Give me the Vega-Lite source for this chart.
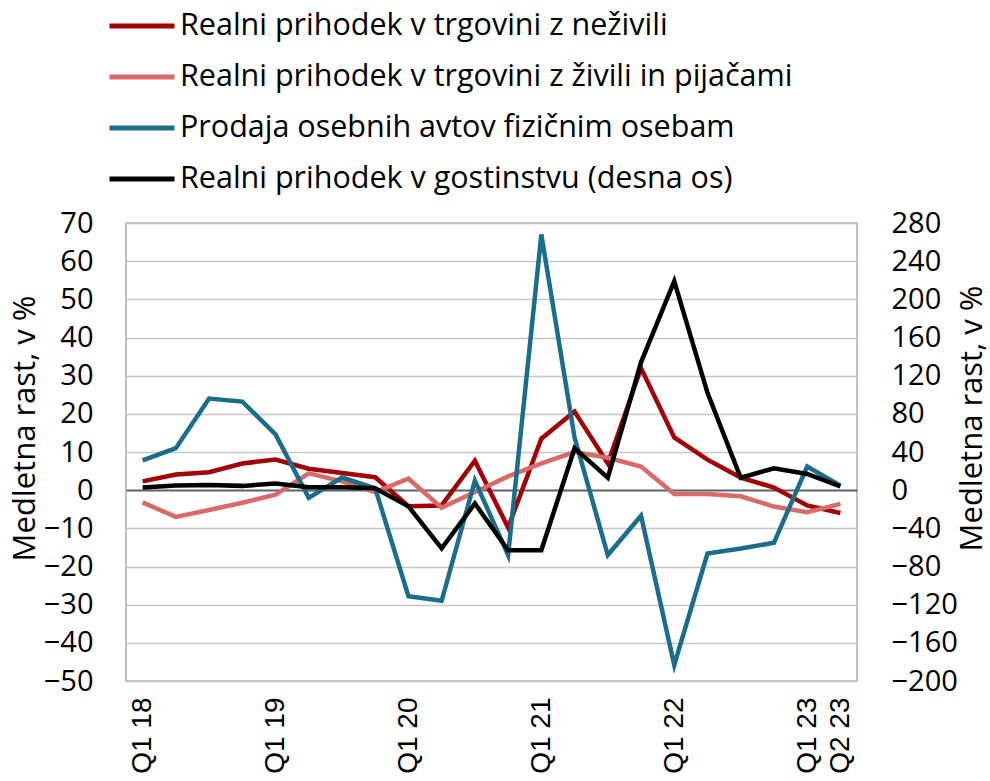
{
  "$schema": "https://vega.github.io/schema/vega-lite/v6.json",
  "width": 731,
  "height": 458,
  "autosize": {"type": "none"},
  "padding": {"left": 126, "top": 223, "right": 133, "bottom": 100},
  "background": "white",
  "config": {
    "view": {"stroke": "#c0c0c0", "strokeWidth": 2},
    "font": "Open Sans"
  },
  "data": {
    "values": [
      {"q": "Q1 18", "nezivila": 2.3, "zivila": -3.2, "avti": 7.8, "gostinstvo": 2.7},
      {"q": "Q2 18", "nezivila": 4.1, "zivila": -7.0, "avti": 11.0, "gostinstvo": 5},
      {"q": "Q3 18", "nezivila": 4.7, "zivila": -5.2, "avti": 24.0, "gostinstvo": 5.5},
      {"q": "Q4 18", "nezivila": 7.0, "zivila": -3.3, "avti": 23.2, "gostinstvo": 4.5},
      {"q": "Q1 19", "nezivila": 8.0, "zivila": -1.2, "avti": 14.6, "gostinstvo": 7},
      {"q": "Q2 19", "nezivila": 5.6, "zivila": 4.4, "avti": -2.0, "gostinstvo": 3},
      {"q": "Q3 19", "nezivila": 4.5, "zivila": 2.3, "avti": 3.3, "gostinstvo": 3},
      {"q": "Q4 19", "nezivila": 3.4, "zivila": -0.5, "avti": 0.5, "gostinstvo": 2},
      {"q": "Q1 20", "nezivila": -4.2, "zivila": 3.0, "avti": -27.8, "gostinstvo": -17},
      {"q": "Q2 20", "nezivila": -4.0, "zivila": -4.6, "avti": -29.0, "gostinstvo": -61},
      {"q": "Q3 20", "nezivila": 7.7, "zivila": -0.5, "avti": 2.5, "gostinstvo": -14},
      {"q": "Q4 20", "nezivila": -9.8, "zivila": 3.6, "avti": -17.0, "gostinstvo": -63},
      {"q": "Q1 21", "nezivila": 13.5, "zivila": 7.0, "avti": 67.0, "gostinstvo": -63},
      {"q": "Q2 21", "nezivila": 20.6, "zivila": 10.0, "avti": 13.8, "gostinstvo": 44},
      {"q": "Q3 21", "nezivila": 7.0, "zivila": 8.5, "avti": -17.0, "gostinstvo": 13},
      {"q": "Q4 21", "nezivila": 32.0, "zivila": 6.2, "avti": -6.7, "gostinstvo": 134},
      {"q": "Q1 22", "nezivila": 13.8, "zivila": -1.0, "avti": -45.8, "gostinstvo": 219},
      {"q": "Q2 22", "nezivila": 8.0, "zivila": -1.0, "avti": -16.6, "gostinstvo": 102},
      {"q": "Q3 22", "nezivila": 3.3, "zivila": -1.6, "avti": -15.3, "gostinstvo": 13},
      {"q": "Q4 22", "nezivila": 0.7, "zivila": -4.3, "avti": -13.8, "gostinstvo": 23},
      {"q": "Q1 23", "nezivila": -4.0, "zivila": -5.8, "avti": 6.2, "gostinstvo": 17},
      {"q": "Q2 23", "nezivila": -6.0, "zivila": -3.6, "avti": 1.2, "gostinstvo": 4}
    ]
  },
  "encoding": {
    "x": {
      "field": "q",
      "type": "ordinal",
      "sort": ["Q1 18","Q2 18","Q3 18","Q4 18","Q1 19","Q2 19","Q3 19","Q4 19","Q1 20","Q2 20","Q3 20","Q4 20","Q1 21","Q2 21","Q3 21","Q4 21","Q1 22","Q2 22","Q3 22","Q4 22","Q1 23","Q2 23"],
      "axis": {
        "title": null,
        "labelAngle": 270,
        "labelAlign": "right",
        "labelBaseline": "middle",
        "labelFont": "Liberation Sans",
        "labelFontSize": 28,
        "labelColor": "black",
        "labelPadding": 16,
        "ticks": false,
        "domain": false,
        "grid": false,
        "labelOverlap": false,
        "labelExpr": "indexof(['Q1 18','Q1 19','Q1 20','Q1 21','Q1 22','Q1 23','Q2 23'], datum.label) >= 0 ? datum.label : ''"
      }
    }
  },
  "layer": [
    {
      "transform": [{"fold": ["nezivila", "zivila", "avti"], "as": ["series", "value"]}],
      "mark": {"type": "line", "strokeWidth": 4.5},
      "encoding": {
        "y": {
          "field": "value",
          "type": "quantitative",
          "scale": {"domain": [-50, 70], "nice": false, "zero": false},
          "axis": {
            "values": [-50,-40,-30,-20,-10,0,10,20,30,40,50,60,70],
            "title": "Medletna rast, v %",
            "titleFont": "Open Sans",
            "titleFontSize": 31,
            "titleFontWeight": "normal",
            "titleColor": "black",
            "titleAngle": 270,
            "titleAlign": "center",
            "titleBaseline": "middle",
            "titleX": -101,
            "titleY": 205,
            "labelFont": "Open Sans",
            "labelFontSize": 29,
            "labelColor": "black",
            "labelPadding": 33,
            "ticks": false,
            "domain": false,
            "grid": true,
            "gridColor": {"condition": {"test": "datum.value === 0", "value": "#5d6169"}, "value": "#c6c6c6"},
            "gridWidth": {"condition": {"test": "datum.value === 0", "value": 2}, "value": 1.7}
          }
        },
        "color": {
          "field": "series",
          "type": "nominal",
          "scale": {
            "domain": ["nezivila", "zivila", "avti", "gostinstvo"],
            "range": ["#a30008", "#d96a6a", "#1b6e8a", "#000000"]
          },
          "legend": {
            "orient": "none",
            "legendX": -19,
            "legendY": -232,
            "title": null,
            "symbolType": "stroke",
            "symbolSize": 4225,
            "symbolStrokeWidth": 5,
            "labelFont": "Open Sans",
            "labelFontSize": 30.5,
            "labelColor": "black",
            "labelOffset": 3,
            "rowPadding": 0,
            "labelLimit": 800,
            "labelExpr": "datum.label === 'nezivila' ? 'Realni prihodek v trgovini z neživili' : datum.label === 'zivila' ? 'Realni prihodek v trgovini z živili in pijačami' : datum.label === 'avti' ? 'Prodaja osebnih avtov fizičnim osebam' : 'Realni prihodek v gostinstvu (desna os)'"
          }
        }
      }
    },
    {
      "transform": [{"fold": ["gostinstvo"], "as": ["series", "value"]}],
      "mark": {"type": "line", "strokeWidth": 4.5},
      "encoding": {
        "y": {
          "field": "value",
          "type": "quantitative",
          "scale": {"domain": [-200, 280], "nice": false, "zero": false},
          "axis": {
            "orient": "right",
            "values": [-200,-160,-120,-80,-40,0,40,80,120,160,200,240,280],
            "title": "Medletna rast, v %",
            "titleFont": "Open Sans",
            "titleFontSize": 31,
            "titleFontWeight": "normal",
            "titleColor": "black",
            "titleAngle": 270,
            "titleAlign": "center",
            "titleBaseline": "middle",
            "titleX": 115,
            "titleY": 195,
            "labelFont": "Open Sans",
            "labelFontSize": 29,
            "labelColor": "black",
            "labelPadding": 34,
            "ticks": false,
            "domain": false,
            "grid": false
          }
        },
        "color": {"field": "series", "type": "nominal"}
      }
    }
  ],
  "resolve": {"scale": {"y": "independent"}}
}
